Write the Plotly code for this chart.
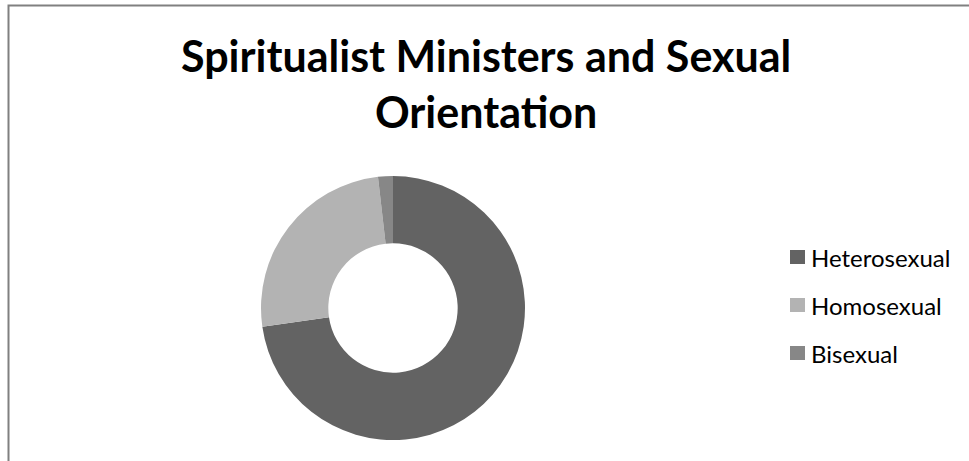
import plotly.graph_objects as go

labels = ["Heterosexual", "Homosexual", "Bisexual"]
values = [40, 14, 1]
colors = ["#636363", "#b3b3b3", "#878787"]
title_text = "Spiritualist Ministers and Sexual<br>Orientation"

W, H = 969, 461
cx, cy, r = 393, 308, 132

fig = go.Figure(go.Pie(
    labels=labels, values=values, hole=0.49, sort=False, direction="clockwise",
    rotation=0, marker=dict(colors=colors, line=dict(width=0)),
    textinfo="none", hoverinfo="label+value+percent", showlegend=False,
    domain=dict(x=[(cx - r) / W, (cx + r) / W], y=[1 - (cy + r) / H, 1 - (cy - r) / H]),
))

shapes = [dict(type="rect", xref="paper", yref="paper",
               x0=8.5 / W, x1=1.2, y0=-0.2, y1=1 - 5.5 / H,
               line=dict(color="#808080", width=2), fillcolor="rgba(0,0,0,0)")]
annotations = [dict(text="<b>" + title_text + "</b>", xref="paper", yref="paper",
                    x=486 / W, y=1 - 83 / H, xanchor="center", yanchor="middle",
                    showarrow=False, font=dict(family="Lato", size=43, color="#000000"))]

leg_y = [257, 305, 353]
for lab, col, yy in zip(labels, colors, leg_y):
    shapes.append(dict(type="rect", xref="paper", yref="paper",
                       x0=790 / W, x1=805 / W, y0=1 - (yy + 7) / H, y1=1 - (yy - 7) / H,
                       line=dict(width=0), fillcolor=col))
    annotations.append(dict(text=lab, xref="paper", yref="paper", x=809 / W, y=1 - yy / H,
                            xanchor="left", yanchor="middle", showarrow=False,
                            font=dict(family="Lato", size=24, color="#000000")))

fig.update_layout(width=W, height=H, margin=dict(l=0, r=0, t=0, b=0),
                  paper_bgcolor="white", plot_bgcolor="white",
                  shapes=shapes, annotations=annotations)
fig.write_html("out.html")
